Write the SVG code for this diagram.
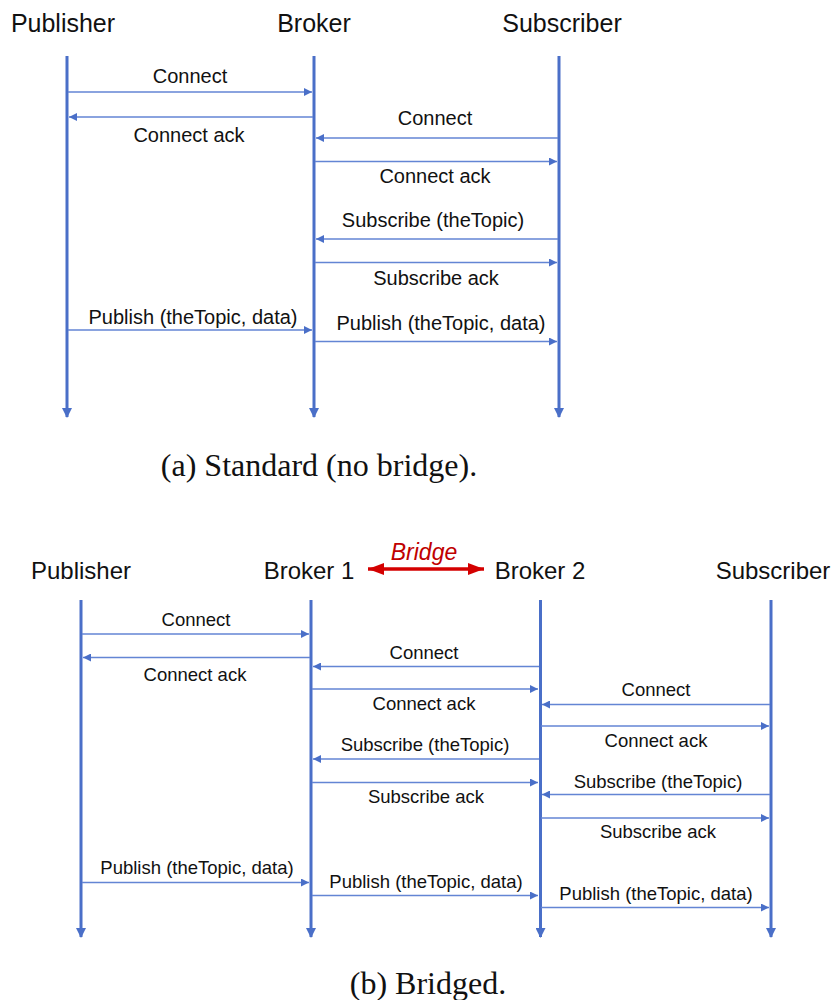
<svg xmlns="http://www.w3.org/2000/svg" width="833" height="1000" viewBox="0 0 833 1000">
  <style>
    .title { font-family: "Liberation Sans", Arial, sans-serif; font-size: 25px; fill: #111; text-anchor: middle; }
    .title2 { font-family: "Liberation Sans", Arial, sans-serif; font-size: 24px; fill: #111; text-anchor: middle; }
    .lbl { font-family: "Liberation Sans", Arial, sans-serif; font-size: 20px; fill: #111; text-anchor: middle; }
    .lbl2 { font-family: "Liberation Sans", Arial, sans-serif; font-size: 18.5px; fill: #111; text-anchor: middle; }
    .cap { font-family: "Liberation Serif", "Times New Roman", serif; font-size: 32px; fill: #111; text-anchor: middle; }
    .life { stroke: #4a6fc8; stroke-width: 3; fill: none; marker-end: url(#lifeEnd); }
    .msg { stroke: #6385d4; stroke-width: 1.3; fill: none; marker-end: url(#msgEnd); }
    .bridge { stroke: #d40000; stroke-width: 3.5; fill: none; marker-start: url(#bridgeEnd); marker-end: url(#bridgeEnd); }
  </style>
  <defs>
    <marker id="lifeEnd" viewBox="0 0 10 10" refX="9" refY="5" markerWidth="10" markerHeight="10" markerUnits="userSpaceOnUse" orient="auto">
      <path d="M0,0 L10,5 L0,10 z" fill="#4a6fc8"/>
    </marker>
    <marker id="msgEnd" viewBox="0 0 10 10" refX="10" refY="5" markerWidth="8" markerHeight="8" markerUnits="userSpaceOnUse" orient="auto">
      <path d="M0,0 L10,5 L0,10 z" fill="#4a6fc8"/>
    </marker>
    <marker id="bridgeEnd" viewBox="0 0 16 12" refX="16" refY="6" markerWidth="16" markerHeight="12" markerUnits="userSpaceOnUse" orient="auto-start-reverse">
      <path d="M0,0 L16,6 L0,12 z" fill="#d40000"/>
    </marker>
  </defs>

  <!-- (a) standard flow: one broker -->
  <g id="a-publisher">
    <text class="title" x="63" y="32">Publisher</text>
    <line class="life" x1="67" y1="56" x2="67" y2="417"/>
  </g>
  <g id="a-broker">
    <text class="title" x="314" y="32">Broker</text>
    <line class="life" x1="314" y1="56" x2="314" y2="417"/>
  </g>
  <g id="a-subscriber">
    <text class="title" x="562" y="32">Subscriber</text>
    <line class="life" x1="559" y1="56" x2="559" y2="417"/>
  </g>

  <g id="a-messages">
    <line class="msg" x1="68" y1="92" x2="312" y2="92"/>
    <text class="lbl" x="190" y="83">Connect</text>

    <line class="msg" x1="313" y1="117" x2="69" y2="117"/>
    <text class="lbl" x="189" y="142">Connect ack</text>

    <line class="msg" x1="558" y1="138" x2="316" y2="138"/>
    <text class="lbl" x="435" y="125">Connect</text>

    <line class="msg" x1="315" y1="161.5" x2="557" y2="161.5"/>
    <text class="lbl" x="435" y="183">Connect ack</text>

    <line class="msg" x1="558" y1="239" x2="316" y2="239"/>
    <text class="lbl" x="433" y="227">Subscribe (theTopic)</text>

    <line class="msg" x1="315" y1="262.5" x2="557" y2="262.5"/>
    <text class="lbl" x="436" y="285">Subscribe ack</text>

    <line class="msg" x1="68" y1="330" x2="312" y2="330"/>
    <text class="lbl" x="193" y="324">Publish (theTopic, data)</text>

    <line class="msg" x1="315" y1="341.5" x2="557" y2="341.5"/>
    <text class="lbl" x="441" y="330">Publish (theTopic, data)</text>
  </g>

  <text class="cap" x="319" y="476">(a) Standard (no bridge).</text>

  <!-- (b) bridged flow: two brokers -->
  <g id="b-publisher">
    <text class="title2" x="81" y="579">Publisher</text>
    <line class="life" x1="81" y1="600" x2="81" y2="937"/>
  </g>
  <g id="b-broker1">
    <text class="title2" x="309" y="579">Broker 1</text>
    <line class="life" x1="311" y1="600" x2="311" y2="937"/>
  </g>
  <g id="b-broker2">
    <text class="title2" x="540" y="579">Broker 2</text>
    <line class="life" x1="540.5" y1="600" x2="540.5" y2="937"/>
  </g>
  <g id="b-subscriber">
    <text class="title2" x="773" y="579">Subscriber</text>
    <line class="life" x1="771" y1="600" x2="771" y2="937"/>
  </g>

  <g id="b-bridge">
    <line class="bridge" x1="368" y1="569" x2="484" y2="569"/>
    <text x="424" y="560" font-family="'Liberation Sans', Arial, sans-serif" font-size="23" font-style="italic" fill="#c00000" text-anchor="middle">Bridge</text>
  </g>

  <g id="b-messages">
    <line class="msg" x1="82" y1="634" x2="309" y2="634"/>
    <text class="lbl2" x="196" y="626">Connect</text>

    <line class="msg" x1="310" y1="657.5" x2="83" y2="657.5"/>
    <text class="lbl2" x="195" y="681">Connect ack</text>

    <line class="msg" x1="539" y1="666.5" x2="313" y2="666.5"/>
    <text class="lbl2" x="424" y="659">Connect</text>

    <line class="msg" x1="312" y1="689" x2="538" y2="689"/>
    <text class="lbl2" x="424" y="710">Connect ack</text>

    <line class="msg" x1="770" y1="704.5" x2="542" y2="704.5"/>
    <text class="lbl2" x="656" y="696">Connect</text>

    <line class="msg" x1="541" y1="726" x2="769" y2="726"/>
    <text class="lbl2" x="656" y="747">Connect ack</text>

    <line class="msg" x1="539" y1="759" x2="313" y2="759"/>
    <text class="lbl2" x="425" y="751">Subscribe (theTopic)</text>

    <line class="msg" x1="312" y1="782.5" x2="538" y2="782.5"/>
    <text class="lbl2" x="426" y="803">Subscribe ack</text>

    <line class="msg" x1="770" y1="794.5" x2="542" y2="794.5"/>
    <text class="lbl2" x="658" y="788">Subscribe (theTopic)</text>

    <line class="msg" x1="541" y1="818" x2="769" y2="818"/>
    <text class="lbl2" x="658" y="838">Subscribe ack</text>

    <line class="msg" x1="82" y1="882.5" x2="309" y2="882.5"/>
    <text class="lbl2" x="197" y="874">Publish (theTopic, data)</text>

    <line class="msg" x1="312" y1="895.5" x2="538" y2="895.5"/>
    <text class="lbl2" x="426" y="888">Publish (theTopic, data)</text>

    <line class="msg" x1="541" y1="907.5" x2="769" y2="907.5"/>
    <text class="lbl2" x="656" y="900">Publish (theTopic, data)</text>
  </g>

  <text class="cap" x="428" y="994">(b) Bridged.</text>
</svg>
